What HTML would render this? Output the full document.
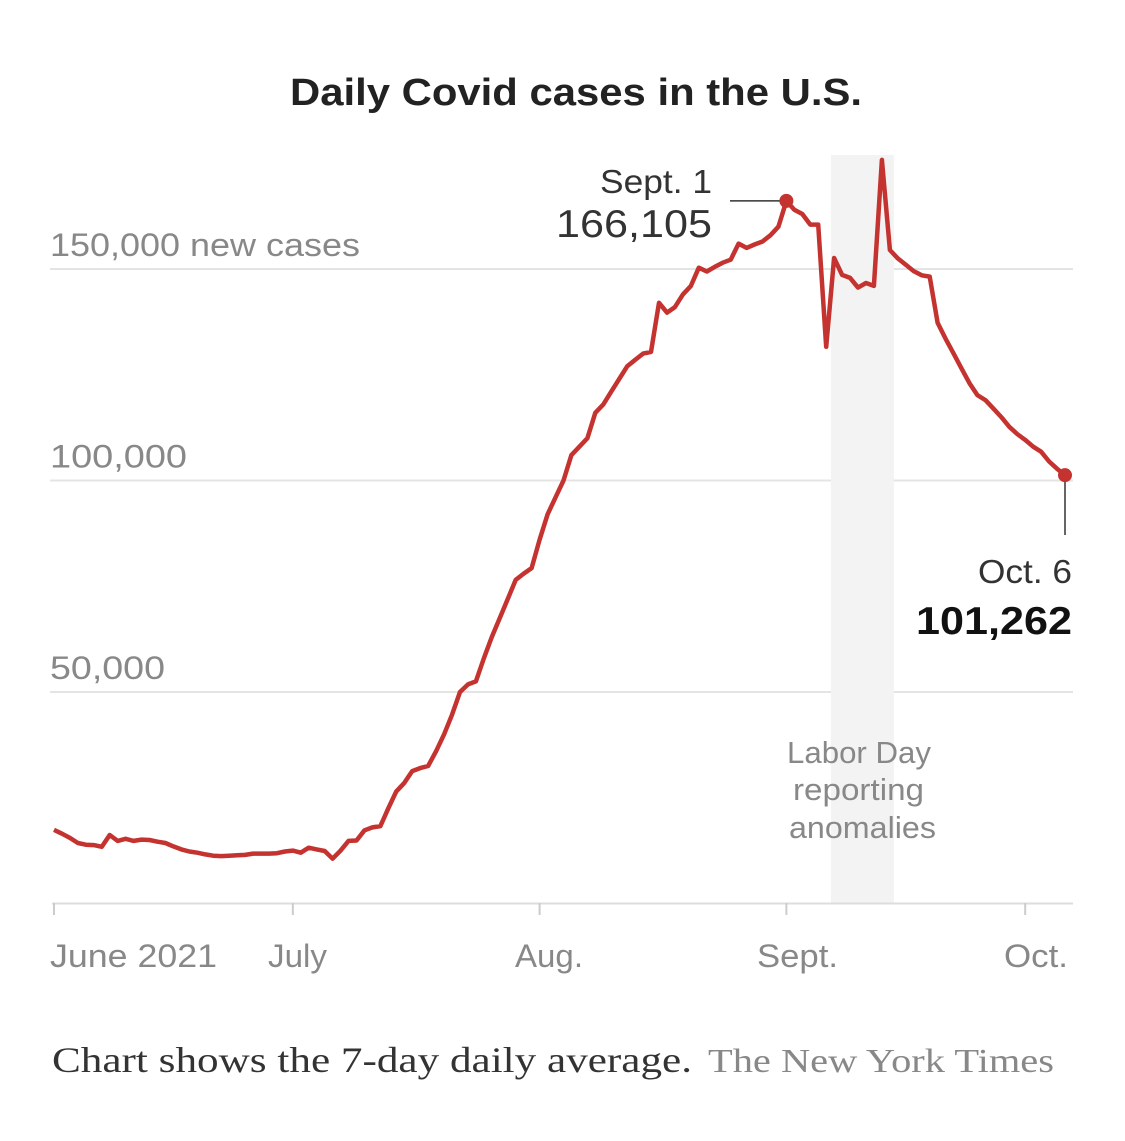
<!DOCTYPE html>
<html><head><meta charset="utf-8"><style>
html,body{margin:0;padding:0;background:#fff;}
svg{display:block;}
</style></head><body>
<svg id="chart" width="1125" height="1141" viewBox="0 0 1125 1141" font-family="'Liberation Sans', sans-serif">
<text x="290" y="105" font-size="38" font-weight="bold" fill="#222" textLength="572" lengthAdjust="spacingAndGlyphs">Daily Covid cases in the U.S.</text>
<g id="grid"></g>
<rect id="band" fill="#f3f3f3"></rect>
<g id="axis"></g>
<g id="series"></g>
<g id="annot" fill="#333">
<text x="600" y="193" font-size="33" textLength="112" lengthAdjust="spacingAndGlyphs">Sept. 1</text>
<text x="556" y="237" font-size="39" textLength="156" lengthAdjust="spacingAndGlyphs">166,105</text>
<text x="978" y="583" font-size="33" textLength="94" lengthAdjust="spacingAndGlyphs">Oct. 6</text>
<text x="916" y="634" font-size="39" font-weight="bold" fill="#111" textLength="156" lengthAdjust="spacingAndGlyphs">101,262</text>
<g fill="#888" font-size="31">
<text x="787" y="763" textLength="144" lengthAdjust="spacingAndGlyphs">Labor Day</text><text x="793" y="800" textLength="131" lengthAdjust="spacingAndGlyphs">reporting</text><text x="789" y="838" textLength="147" lengthAdjust="spacingAndGlyphs">anomalies</text>
</g>
</g>
<text x="52" y="1072" font-family="'Liberation Serif', serif" font-size="36" fill="#333" textLength="640" lengthAdjust="spacingAndGlyphs">Chart shows the 7-day daily average.</text>
<text x="708" y="1072" font-family="'Liberation Serif', serif" font-size="34" fill="#888" textLength="346" lengthAdjust="spacingAndGlyphs">The New York Times</text>
</svg>
<script>
const juneVals=[17.4,16.5,15.5,14.3,13.9,13.8,13.4,16.2,14.8,15.3,14.8,15.1,15.0,14.6,14.3,13.5,12.8,12.3,12.0,11.6,11.3,11.2,11.3,11.4,11.5,11.8,11.8,11.8,11.9,12.3];
const julyVals=[12.5,12.0,13.2,12.8,12.4,10.6,12.5,14.8,14.9,17.3,18.0,18.3,22.5,26.5,28.5,31.3,32.0,32.5,36.0,40.0,44.6,50.0,51.8,52.5,58.0,63.0,67.5,72.0,76.5,78.0,79.3];
const augVals=[86,92,96,100,106,108,110,116,118,121,124,127,128.5,130,130.4,142,139.7,141,144,146,150.3,149.4,150.5,151.5,152.2,156,155,155.8,156.5,158,160];
const septVals=[166.105,164,163,160.5,160.5,131.6,152.6,148.6,147.9,145.6,146.7,146,175.8,154.5,152.5,151,149.5,148.5,148.2,137.3,133.5,130,126.5,123,120.2,119,117,115,112.7,111];
const octVals=[109.6,108,106.8,104.5,102.8,101.262];
const yTicks=[50000,100000,150000];
const yTickLabels=["50,000","100,000","150,000 new cases"];
const xTickDays=[0,30,61,92,122];
const xTickLabels=["June 2021","July","Aug.","Sept.","Oct."];
const bandDays=[97.6,105.5];

const yLabelW=[115,137,310];
const xLabelX=[50,268,515,757,1004];
const xLabelW=[167,59,68,81,64];
const values=[].concat(juneVals,julyVals,augVals,septVals,octVals).map(v=>v*1000);
const NS="http://www.w3.org/2000/svg";
const x=d=>54+d*(1065-54)/127;
const y=v=>903.5-v*211.5/50000;
function mk(tag,attrs,parent){const e=document.createElementNS(NS,tag);for(const k in attrs)e.setAttribute(k,attrs[k]);parent.appendChild(e);return e;}
const grid=document.getElementById('grid');
yTicks.forEach((t,i)=>{
  const l=mk('line',{x1:50,x2:1073,y1:y(t),y2:y(t),stroke:'#e4e4e4','stroke-width':2},grid);
  
  
  const tx=mk('text',{x:50,y:y(t)-13,'font-size':32,fill:'#888',textLength:yLabelW[i],lengthAdjust:'spacingAndGlyphs'},grid);
  
  
  tx.textContent=yTickLabels[i];
});
const band=document.getElementById('band');
band.setAttribute('x',x(bandDays[0]));band.setAttribute('width',x(bandDays[1])-x(bandDays[0]));
band.setAttribute('y',155);band.setAttribute('height',903-155);
const axis=document.getElementById('axis');
const base=mk('line',{x1:52,x2:1073,y1:903.5,y2:903.5,stroke:'#ddd','stroke-width':2},axis);


xTickDays.forEach((d,i)=>{
  const tk=mk('line',{x1:x(d),x2:x(d),y1:903,y2:915,stroke:'#ccc','stroke-width':2},axis);
  
  
  const tx=mk('text',{x:xLabelX[i],y:967,'font-size':32,fill:'#888',textLength:xLabelW[i],lengthAdjust:'spacingAndGlyphs'},axis);
  
  
  tx.textContent=xTickLabels[i];
});
const series=document.getElementById('series');
const pts=values.map((v,i)=>x(i).toFixed(1)+','+y(v).toFixed(1)).join(' ');
const pl=mk('polyline',{points:pts,fill:'none',stroke:'#c4332f','stroke-width':4.5,'stroke-linejoin':'round'},series);


const pi=92, li=values.length-1;
const c1=mk('line',{x1:730,x2:x(pi),y1:y(values[pi]),y2:y(values[pi]),stroke:'#333','stroke-width':1.5},series);


const c2=mk('line',{x1:x(li),x2:x(li),y1:y(values[li]),y2:535,stroke:'#333','stroke-width':1.5},series);


const d1=mk('circle',{cx:x(pi),cy:y(values[pi]),r:7,fill:'#c4332f'},series);


const d2=mk('circle',{cx:x(li),cy:y(values[li]),r:7,fill:'#c4332f'},series);


</script>
</body></html>
